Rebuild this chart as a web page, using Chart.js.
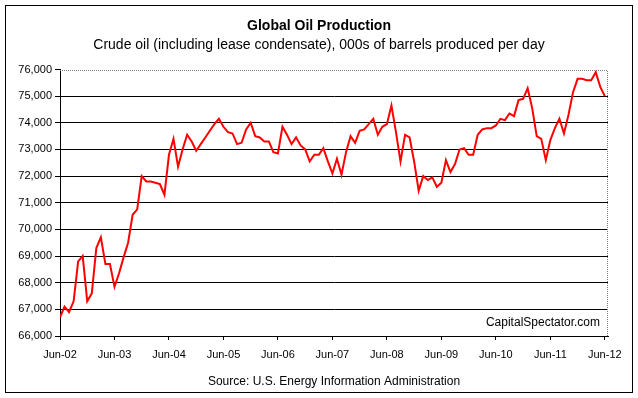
<!DOCTYPE html>
<html>
<head>
<meta charset="utf-8">
<script src="https://cdn.jsdelivr.net/npm/chart.js@4/dist/chart.umd.min.js"></script>
<style>
  html, body { margin: 0; padding: 0; background: #ffffff; }
  #wrap { width: 638px; height: 398px; position: relative; }
</style>
</head>
<body>
<div id="wrap"><canvas id="c" width="638" height="398"></canvas></div>
<script>
// Monthly global crude oil production, Jun-2002 .. Jun-2012 (000s barrels/day)
const production = [
  66700, 67100, 66900, 67300, 68800, 69000, 67300, 67600, 69300, 69700, 68700, 68700,
  67850, 68350, 68950, 69500, 70550, 70750, 72000, 71800, 71800, 71750, 71700, 71300,
  72800, 73400, 72350, 73000, 73550, 73300, 72950, 73200, 73450, 73700, 73950, 74150,
  73850, 73650, 73600, 73200, 73250, 73750, 74000, 73500, 73450, 73300, 73300, 72900,
  72850, 73850, 73550, 73200, 73450, 73150, 73000, 72550, 72800, 72800, 73050, 72550,
  72100, 72650, 72050, 72900, 73500, 73250, 73700, 73750, 73950, 74150, 73550, 73850,
  73950, 74650, 73650, 72550, 73550, 73450, 72550, 71450, 72000, 71850, 71950, 71600,
  71750, 72600, 72150, 72450, 73000, 73050, 72800, 72800, 73550, 73750, 73800, 73800,
  73900, 74150, 74100, 74350, 74250, 74850, 74900, 75300, 74550, 73500, 73400, 72600,
  73350, 73800, 74150, 73600, 74300, 75150, 75650, 75650, 75600, 75600, 75900, 75350,
  75000
];
const tickLabels = ['Jun-02','Jun-03','Jun-04','Jun-05','Jun-06','Jun-07','Jun-08','Jun-09','Jun-10','Jun-11','Jun-12'];
const titleText = 'Global Oil Production';
const subtitleText = 'Crude oil (including lease condensate), 000s of barrels produced per day';
const sourceText = 'Source: U.S. Energy Information Administration';
const creditText = 'CapitalSpectator.com';

const FONT = '"Liberation Sans", Arial, sans-serif';

const frame = {
  id: 'frame',
  beforeDraw(chart) {
    const ctx = chart.ctx;
    ctx.save();
    ctx.fillStyle = '#ffffff';
    ctx.fillRect(0, 0, chart.width, chart.height);
    ctx.strokeStyle = '#000000';
    ctx.lineWidth = 1;
    ctx.strokeRect(5.5, 5.5, 627, 387);
    ctx.restore();
  },
  beforeDatasetsDraw(chart) {
    const {ctx, chartArea: a} = chart;
    ctx.save();
    ctx.strokeStyle = '#808080';
    ctx.lineWidth = 1;
    ctx.setLineDash([1, 1]);
    const t = Math.round(a.top) + 0.5, r = Math.round(a.right) - 0.5;
    ctx.beginPath();
    ctx.moveTo(Math.round(a.left), t);
    ctx.lineTo(r, t);
    ctx.lineTo(r, Math.round(a.bottom));
    ctx.stroke();
    ctx.setLineDash([]);
    ctx.fillStyle = '#000000';
    ctx.font = '12px ' + FONT;
    ctx.textAlign = 'right';
    ctx.textBaseline = 'middle';
    ctx.fillText(creditText, a.right - 8, 323);
    ctx.restore();
  }
};

new Chart(document.getElementById('c'), {
  type: 'line',
  data: {
    datasets: [{
      data: production.map((v, i) => ({ x: i, y: v })),
      borderColor: '#ff0000',
      borderWidth: 2,
      pointRadius: 0,
      tension: 0,
      fill: false
    }]
  },
  options: {
    responsive: false,
    animation: false,
    devicePixelRatio: 1,
    layout: { padding: 0 },
    plugins: {
      legend: { display: false },
      tooltip: { enabled: false },
      title: {
        display: true, text: titleText, color: '#000000',
        font: { family: FONT, size: 14, weight: 'bold', lineHeight: 1.2 },
        padding: { top: 18, bottom: 1.5 }
      },
      subtitle: {
        display: true, text: subtitleText, color: '#000000',
        font: { family: FONT, size: 14, lineHeight: 1.2 },
        padding: { top: 0, bottom: 16.4 }
      }
    },
    scales: {
      x: {
        type: 'linear', min: 0, max: 120.7,
        afterBuildTicks(scale) {
          scale.ticks = tickLabels.map((_, k) => ({ value: k * 12 }));
        },
        afterFit(scale) { scale.height = 62; },
        ticks: {
          color: '#000000', font: { family: FONT, size: 11 }, padding: 8,
          maxRotation: 0, autoSkip: false,
          callback: (v, idx) => tickLabels[idx]
        },
        grid: { display: true, drawOnChartArea: false, drawTicks: true, tickLength: 4, tickColor: '#000000' },
        border: { display: true, color: '#000000', width: 1 },
        title: {
          display: true, text: sourceText, color: '#000000',
          font: { family: FONT, size: 12, lineHeight: 1.2 },
          padding: { top: 0, bottom: 8.8 }
        }
      },
      y: {
        min: 66000, max: 76000,
        afterFit(scale) { scale.width = 60; },
        ticks: {
          stepSize: 1000, color: '#000000', font: { family: FONT, size: 11 }, padding: 3,
          callback: v => v.toLocaleString('en-US')
        },
        grid: {
          color: ctx => (ctx.tick && ctx.tick.value === 76000) ? 'rgba(0,0,0,0)' : '#000000',
          tickColor: '#000000', tickLength: 5, lineWidth: 1
        },
        border: { display: true, color: '#000000', width: 1 }
      },
      spacer: {
        type: 'linear', position: 'right', display: true,
        afterFit(scale) { scale.width = 30; },
        ticks: { display: false },
        grid: { display: false, drawTicks: false },
        border: { display: false }
      }
    }
  },
  plugins: [frame]
});
</script>
</body>
</html>
